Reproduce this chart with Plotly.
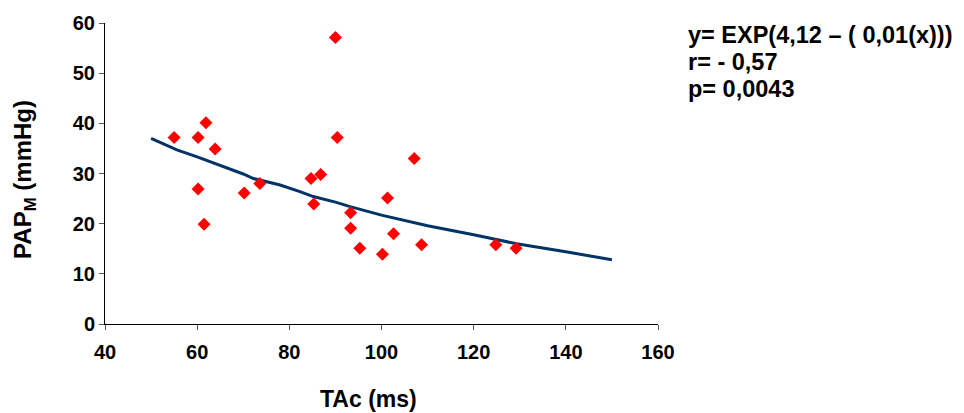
import plotly.graph_objects as go

# Scatter data (TAc in ms, PAPm in mmHg)
tac = [55.0, 60.2, 61.9, 63.9, 60.2, 61.5, 70.2, 73.6, 84.7, 86.8, 85.3, 90.0,
       90.4, 93.3, 93.3, 95.3, 100.2, 101.3, 102.6, 107.1, 108.7, 124.8, 129.2]
pap = [37.2, 37.2, 40.1, 34.9, 26.9, 19.9, 26.1, 28.0, 29.0, 29.8, 23.9, 57.1,
       37.2, 22.2, 19.1, 15.1, 13.9, 25.1, 18.0, 33.0, 15.8, 15.8, 15.1]

# Fitted curve values
fit_x = [50, 55.6, 60, 65.7, 70, 72.2, 78, 82.3, 85.2, 90, 93.2, 100, 110, 120, 129.3, 140, 147.4, 150]
fit_y = [37.0, 34.7, 33.3, 31.4, 29.9, 29.0, 27.7, 26.4, 25.4, 24.3, 23.4, 21.7, 19.6, 17.8, 16.0, 14.4, 13.2, 12.8]

x_ticks = [40, 60, 80, 100, 120, 140, 160]
y_ticks = [0, 10, 20, 30, 40, 50, 60]

font = "Liberation Sans, Arial, sans-serif"

fig = go.Figure()
fig.add_trace(go.Scatter(x=fit_x, y=fit_y, mode="lines",
                         line=dict(color="#003366", width=3), showlegend=False))
fig.add_trace(go.Scatter(x=tac, y=pap, mode="markers",
                         marker=dict(symbol="diamond", size=10, color="#FF0000"),
                         showlegend=False))

fig.update_layout(
    width=964, height=413,
    margin=dict(l=105, r=306, t=23, b=89),
    plot_bgcolor="white", paper_bgcolor="white",
    font=dict(family=font, color="black"),
    xaxis=dict(range=[40, 160], tickvals=x_ticks, showgrid=False, zeroline=False,
               showline=True, linecolor="black", linewidth=1,
               ticks="outside", ticklen=5, tickcolor="#555", ticklabelstandoff=5,
               tickfont=dict(size=20, weight="bold", family=font)),
    yaxis=dict(range=[0, 60], tickvals=y_ticks, showgrid=False, zeroline=False,
               showline=True, linecolor="black", linewidth=1,
               ticks="outside", ticklen=5, tickcolor="#555",
               tickfont=dict(size=20, weight="bold", family=font)),
)

ann = [
    dict(text="<b>TAc (ms)</b>", x=0.4756, y=-0.248, font=dict(size=23),
         xanchor="center", yanchor="middle"),
    dict(text="<b>PAP<sub>M</sub> (mmHg)</b>", x=-0.1447, y=0.482, textangle=-90,
         font=dict(size=24), xanchor="center", yanchor="middle"),
    dict(text="<b>y= EXP(4,12 – ( 0,01(x)))</b>", x=1.0506, y=0.959, font=dict(size=23.5),
         xanchor="left", yanchor="middle"),
    dict(text="<b>r= - 0,57</b>", x=1.0506, y=0.870, font=dict(size=23.5),
         xanchor="left", yanchor="middle"),
    dict(text="<b>p= 0,0043</b>", x=1.0506, y=0.782, font=dict(size=23.5),
         xanchor="left", yanchor="middle"),
]
for a in ann:
    a.update(xref="paper", yref="paper", showarrow=False)
    fig.add_annotation(**a)

fig.write_html("out.html")
